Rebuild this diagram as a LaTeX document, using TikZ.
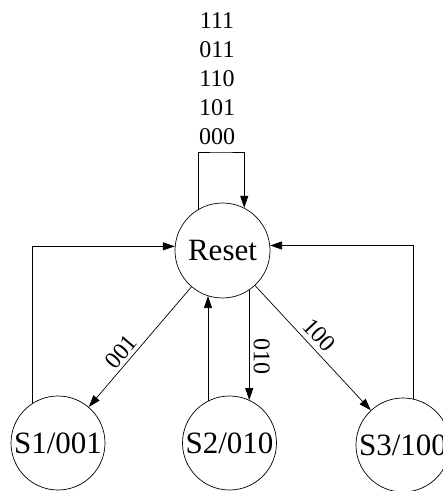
\documentclass[tikz,border=0pt]{standalone}
\usepackage{fontspec}
\setmainfont{Liberation Serif}
\usetikzlibrary{arrows.meta}
\tikzset{
  state/.style={draw, circle, inner sep=0pt, minimum size=94pt, line width=0.7pt,
    font=\fontsize{31}{37}\selectfont},
  edge/.style={line width=0.7pt, -{Triangle[length=12pt, width=8pt]}},
  elabel/.style={font=\fontsize{24}{29}\selectfont, inner sep=3pt}
}
\begin{document}
\begin{tikzpicture}[x=1pt, y=1pt]
\useasboundingbox (0,0) rectangle (443,491);
\node[state, minimum size=95pt] (reset) at (222.5,240.5) {Reset};
\node[state] (s1) at (58,48) {S1/001};
\node[state] (s2) at (229.5,48) {S2/010};
\node[state] (s3) at (403,46) {S3/100};
\node[elabel, align=center, anchor=south, inner sep=0pt] (loopl) at (217,346) {111\\011\\110\\101\\000};
\coordinate (looptop) at (221,339);
% self loop
\draw[edge] (reset.121) |- (looptop) -| (reset.63);
% Reset -> S1
\draw[edge] (reset) -- node[elabel, pos=0.6, sloped, above] (l1) {001} (s1);
% Reset -> S3
\draw[edge] (reset) -- node[elabel, pos=0.47, sloped, above, inner sep=5pt] (l3) {100} (s3);
% Reset -> S2
\draw[edge] (reset.-56.1) -- node[elabel, pos=0.6, rotate=-90, anchor=south, inner sep=4pt] (l2) {010} (reset.-56.1 |- s2.65.5);
% S2 -> Reset
\draw[edge] (s2.117.2) -- (s2.117.2 |- reset.252.2);
% S1 -> Reset
\draw[edge] (s1.123.6) |- (reset.175.8);
% S3 -> Reset
\draw[edge] (s3.77.7) |- (reset.6.6);
\end{tikzpicture}
\end{document}
